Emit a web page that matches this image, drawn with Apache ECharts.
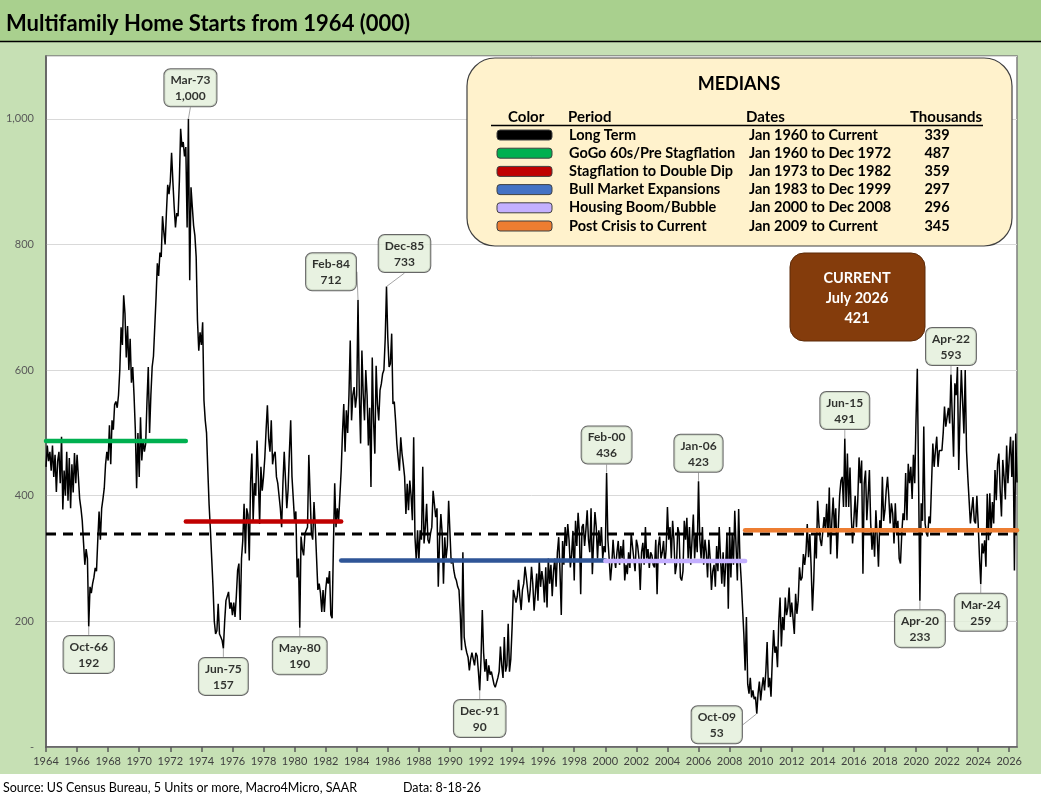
<!DOCTYPE html>
<html>
<head>
<meta charset="utf-8">
<title>Multifamily Home Starts from 1964</title>
<script src="https://cdn.jsdelivr.net/npm/echarts@6.0.0/dist/echarts.min.js"></script>
<style>
  html, body { margin: 0; padding: 0; background: #fff; }
  #main { width: 1041px; height: 802px; }
</style>
</head>
<body>
<div id="main"></div>
<script>
// monthly multifamily starts (000, SAAR), Jan 1964 .. Jul 2026
const starts1960s = [
  446, 480, 455, 470, 440, 480, 430, 465, 406, 455, 470, 420,
  494, 378, 440, 400, 470, 392, 460, 380, 450, 405, 468, 420,
  465, 430, 395, 380, 360, 325, 290, 315, 300, 192, 255, 245,
  260, 270, 285, 280, 330, 375, 330, 380, 395, 412, 450, 470,
  456, 512, 450, 520, 505, 545, 550, 540, 560, 600, 668, 640,
  719, 690, 620, 670, 600, 650, 580, 605, 560, 505, 412, 500
]
const starts1970s = [
  430, 525, 456, 490, 470, 483, 550, 605, 500, 560, 605, 622,
  622, 715, 770, 750, 787, 780, 845, 820, 800, 850, 895, 880,
  900, 946, 900, 860, 827, 850, 845, 900, 984, 955, 963, 940,
  955, 827, 1000, 743, 891, 860, 830, 814, 780, 679, 631, 660,
  640, 676, 552, 520, 500, 440, 385, 345, 300, 255, 200, 180,
  185, 228, 180, 175, 170, 157, 200, 233, 230, 247, 220, 230,
  210, 230, 207, 240, 281, 292, 202, 300, 329, 387, 308, 380,
  370, 297, 420, 467, 360, 420, 400, 488, 430, 355, 446, 408,
  430, 460, 505, 544, 490, 470, 520, 450, 465, 470, 430, 420,
  400, 380, 350, 420, 470, 470, 380, 410, 470, 520, 430, 395
]
const starts1980s = [
  360, 375, 270, 300, 190, 335, 315, 305, 340, 345, 350, 465,
  467, 340, 330, 390, 350, 300, 250, 260, 245, 215, 250, 215,
  250, 270, 260, 280, 210, 205, 320, 420, 350, 380, 360, 400,
  440, 500, 546, 470, 536, 500, 560, 647, 520, 560, 573, 540,
  560, 712, 560, 483, 631, 562, 520, 600, 560, 480, 540, 414,
  620, 519, 467, 607, 546, 520, 568, 578, 594, 600, 650, 733,
  652, 605, 610, 658, 546, 550, 520, 483, 460, 440, 493, 467,
  450, 430, 371, 419, 377, 424, 400, 361, 493, 334, 297, 345,
  297, 345, 330, 446, 324, 350, 387, 330, 324, 340, 350, 408,
  408, 366, 380, 255, 330, 371, 340, 260, 334, 300, 320, 392
]
const starts1990s = [
  390, 292, 300, 281, 270, 265, 255, 250, 210, 154, 310, 175,
  160, 150, 143, 122, 140, 150, 140, 130, 150, 145, 120, 90,
  140, 218, 150, 120, 140, 105, 130, 115, 120, 110, 100, 95,
  95, 110, 120, 160, 130, 110, 175, 120, 130, 196, 120, 140,
  190, 250, 249, 230, 240, 266, 240, 218, 250, 260, 287, 270,
  270, 230, 250, 287, 260, 217, 245, 276, 233, 297, 255, 280,
  265, 230, 286, 222, 300, 260, 290, 240, 280, 300, 255, 310,
  334, 280, 210, 328, 290, 350, 320, 355, 330, 286, 307, 344,
  265, 360, 320, 373, 340, 243, 350, 355, 320, 345, 377, 330,
  310, 380, 275, 330, 374, 350, 300, 345, 320, 350, 300, 320
]
const starts2000s = [
  310, 436, 330, 300, 265, 290, 330, 300, 285, 310, 328, 290,
  320, 300, 330, 265, 290, 275, 310, 285, 340, 320, 300, 280,
  330, 320, 300, 250, 310, 325, 290, 350, 300, 315, 285, 310,
  305, 290, 286, 330, 243, 320, 335, 300, 310, 328, 290, 315,
  382, 330, 350, 300, 360, 330, 275, 290, 350, 340, 270, 265,
  280, 360, 330, 365, 300, 350, 290, 330, 370, 300, 340, 310,
  423, 330, 300, 350, 290, 330, 310, 270, 330, 300, 250, 280,
  290, 255, 320, 280, 350, 300, 260, 310, 255, 290, 340, 220,
  350, 270, 340, 290, 376, 320, 265, 379, 300, 265, 222, 180,
  122, 207, 100, 85, 110, 79, 90, 76, 80, 53, 85, 104
]
const starts2010s = [
  74, 95, 111, 90, 120, 167, 95, 110, 80, 140, 186, 150,
  160, 127, 200, 238, 160, 207, 186, 238, 210, 222, 254, 207,
  230, 233, 180, 244, 212, 233, 286, 265, 270, 307, 290, 310,
  355, 302, 339, 286, 217, 265, 339, 300, 392, 355, 330, 320,
  320, 366, 345, 387, 334, 413, 307, 360, 397, 344, 380, 300,
  350, 400, 424, 430, 382, 491, 382, 467, 382, 445, 367, 324,
  324, 400, 350, 392, 461, 420, 456, 276, 420, 440, 361, 400,
  441, 356, 314, 345, 303, 377, 335, 287, 361, 345, 430, 360,
  377, 409, 430, 398, 356, 388, 372, 324, 388, 340, 360, 300,
  292, 340, 372, 361, 436, 361, 451, 420, 446, 395, 465, 420
]
const starts2020s = [
  520, 602, 420, 233, 388, 360, 510, 356, 340, 335, 367, 356,
  356, 483, 446, 472, 494, 446, 472, 475, 472, 500, 542, 510,
  510, 540, 515, 593, 525, 462, 579, 560, 605, 441, 530, 600,
  600, 499, 600, 472, 430, 393, 356, 377, 398, 360, 356, 400,
  356, 303, 259, 324, 308, 329, 287, 403, 329, 404, 340, 390,
  356, 441, 393, 451, 467, 409, 367, 457, 430, 394, 480, 420,
  460, 494, 430, 488, 281, 499, 421
]

const startYear = 1964
const monthNames = ['Jan', 'Feb', 'Mar', 'Apr', 'May', 'Jun', 'Jul', 'Aug', 'Sep', 'Oct', 'Nov', 'Dec']

// medians table
const medianNames = ['Long Term', 'GoGo 60s/Pre Stagflation', 'Stagflation to Double Dip', 'Bull Market Expansions', 'Housing Boom/Bubble', 'Post Crisis to Current']
const medianDates = ['Jan 1960 to Current', 'Jan 1960 to Dec 1972', 'Jan 1973 to Dec 1982', 'Jan 1983 to Dec 1999', 'Jan 2000 to Dec 2008', 'Jan 2009 to Current']
const medianValues = [339, 487, 359, 297, 296, 345]
const medianFrom = ['Jan-64', 'Jan-64', 'Jan-73', 'Jan-83', 'Jan-00', 'Jan-09']
const medianTo = ['Jul-26', 'Jan-73', 'Jan-83', 'Jan-00', 'Jan-09', 'Jul-26']

// called-out highs and lows
const calloutMonths = ['Oct-66', 'Mar-73', 'Jun-75', 'May-80', 'Feb-84', 'Dec-85', 'Dec-91', 'Feb-00', 'Jan-06', 'Oct-09', 'Jun-15', 'Apr-20', 'Apr-22', 'Mar-24']

const yTicks = [0, 200, 400, 600, 800, 1000]

const starts = [...starts1960s, ...starts1970s, ...starts1980s, ...starts1990s, ...starts2000s, ...starts2010s, ...starts2020s]
const months = starts.map((v, i) => monthNames[i % 12] + '-' + String((startYear + Math.floor(i / 12)) % 100).padStart(2, '0'))
const lastIdx = starts.length - 1

const main = document.getElementById('main')
const myChart = echarts.init(main)

const FONT = 'Lato'
const lineColors = ['#000000', '#00b050', '#c00000', '#2f5597', '#c4b0ff', '#ed7d31']
const swatchColors = ['#000000', '#00b050', '#c00000', '#4472c4', '#c4b0ff', '#ed7d31']

// label placement for each callout (style only)
const calloutPos = ['bottom', 'top', 'bottom', 'bottom', 'top', 'top', 'bottom', 'top', 'top', 'bottom', 'top', 'bottom', 'top', 'bottom']
const calloutShift = {1: [2, -3], 4: [-27, 0], 5: [18, -5], 9: [-40, -17]}

const medianSeries = medianValues.map((m, k) => ({
    type: 'line',
    name: medianNames[k],
    data: [[months.indexOf(medianFrom[k]), m], [months.indexOf(medianTo[k]), m]],
    symbol: 'none',
    silent: true,
    z: k === 0 ? 3 : 4,
    lineStyle: k === 0
        ? {color: lineColors[0], width: 3, type: [10, 7]}
        : {color: lineColors[k], width: 4.5, cap: 'round'}
}))

const calloutData = calloutMonths.map((d, k) => {
    const i = months.indexOf(d)
    return {
        value: [i, starts[i]],
        label: {position: calloutPos[k], distance: 9}
    }
})

// medians box + current box
const T = 14.5
const graphics = [
    {type: 'rect', shape: {x: 0, y: 0, width: 1041, height: 41}, style: {fill: '#a9d08e'}, z: 1},
    {type: 'line', shape: {x1: 0, y1: 41.5, x2: 1041, y2: 41.5}, style: {stroke: '#000', lineWidth: 1.5}, z: 1},
    {type: 'rect', shape: {x: 0, y: 774, width: 1041, height: 28}, style: {fill: '#ffffff'}, z: 1},
    {type: 'text', x: 6, y: 24, style: {text: 'Multifamily Home Starts from 1964 (000)', font: 'bold 22px ' + FONT, fill: '#000', textVerticalAlign: 'middle'}, z: 2},
    {type: 'text', x: 3, y: 788, style: {text: 'Source: US Census Bureau, 5 Units or more, Macro4Micro, SAAR', font: '12.5px ' + FONT, fill: '#000', textVerticalAlign: 'middle'}, z: 2},
    {type: 'text', x: 403, y: 788, style: {text: 'Data: 8-18-26', font: '12.5px ' + FONT, fill: '#000', textVerticalAlign: 'middle'}, z: 2},

    {type: 'rect', shape: {x: 467, y: 58, width: 545, height: 188, r: 28}, style: {fill: '#fff2cc', stroke: '#404040', lineWidth: 1.2}, z: 100},
    {type: 'text', x: 739, y: 84, style: {text: 'MEDIANS', font: 'bold 18px ' + FONT, fill: '#000', textAlign: 'center', textVerticalAlign: 'middle'}, z: 101},
    {type: 'text', x: 508, y: 117, style: {text: 'Color', font: 'bold 15px ' + FONT, fill: '#000', textVerticalAlign: 'middle'}, z: 101},
    {type: 'text', x: 568, y: 117, style: {text: 'Period', font: 'bold 15px ' + FONT, fill: '#000', textVerticalAlign: 'middle'}, z: 101},
    {type: 'text', x: 746, y: 117, style: {text: 'Dates', font: 'bold 15px ' + FONT, fill: '#000', textVerticalAlign: 'middle'}, z: 101},
    {type: 'text', x: 910, y: 117, style: {text: 'Thousands', font: 'bold 15px ' + FONT, fill: '#000', textVerticalAlign: 'middle'}, z: 101},
    {type: 'line', shape: {x1: 491, y1: 125.5, x2: 983, y2: 125.5}, style: {stroke: '#000', lineWidth: 1.5}, z: 101},

    {type: 'rect', shape: {x: 790, y: 253, width: 135, height: 88, r: 14}, style: {fill: '#843c0c', stroke: '#5c2a08', lineWidth: 1}, z: 100},
    {type: 'text', x: 857, y: 278, style: {text: 'CURRENT', font: 'bold 14.5px ' + FONT, fill: '#fff', textAlign: 'center', textVerticalAlign: 'middle'}, z: 101},
    {type: 'text', x: 857, y: 298, style: {text: 'July 2026', font: 'bold 14.5px ' + FONT, fill: '#fff', textAlign: 'center', textVerticalAlign: 'middle'}, z: 101},
    {type: 'text', x: 857, y: 318, style: {text: String(starts[lastIdx]), font: 'bold 14.5px ' + FONT, fill: '#fff', textAlign: 'center', textVerticalAlign: 'middle'}, z: 101}
]
medianNames.forEach((name, k) => {
    const y = 135 + k * 18.2
    graphics.push(
        {type: 'rect', shape: {x: 497, y: y - 5, width: 55, height: 10, r: 3}, style: {fill: swatchColors[k], stroke: '#404040', lineWidth: 1}, z: 101},
        {type: 'text', x: 569, y: y, style: {text: name, font: 'bold ' + T + 'px ' + FONT, fill: '#000', textVerticalAlign: 'middle'}, z: 101},
        {type: 'text', x: 749, y: y, style: {text: medianDates[k], font: 'bold ' + T + 'px ' + FONT, fill: '#000', textVerticalAlign: 'middle'}, z: 101},
        {type: 'text', x: 937, y: y, style: {text: String(medianValues[k]), font: 'bold ' + T + 'px ' + FONT, fill: '#000', textAlign: 'center', textVerticalAlign: 'middle'}, z: 101}
    )
})

myChart.setOption({
    animation: false,
    backgroundColor: '#c6e0b4',
    textStyle: {fontFamily: FONT},
    grid: {
        left: 46, top: 56, width: 971, height: 691,
        show: true, backgroundColor: '#ffffff', borderColor: '#7f7f7f', borderWidth: 1.5
    },
    xAxis: {
        type: 'category',
        data: months,
        boundaryGap: false,
        axisLine: {lineStyle: {color: '#595959', width: 1.5}},
        axisTick: {interval: 23, length: 5, lineStyle: {color: '#595959', width: 1.5}},
        axisLabel: {
            interval: 23, color: '#404040', fontSize: 11, margin: 9,
            formatter: (v, i) => String(startYear + Math.floor(i / 12))
        },
        splitLine: {show: false}
    },
    yAxis: {
        type: 'value',
        min: 0, max: 1100, interval: 200,
        axisLine: {show: true, lineStyle: {color: '#595959', width: 1.5}},
        axisTick: {show: false},
        axisLabel: {
            color: '#595959', fontSize: 11, margin: 12,
            formatter: v => yTicks.indexOf(v) < 0 ? '' : (v === 0 ? '-' : v.toLocaleString('en-US'))
        },
        splitLine: {lineStyle: {color: '#d9d9d9', width: 1}}
    },
    series: [
        {
            type: 'line',
            name: 'Multifamily Starts',
            data: starts,
            symbol: 'none',
            z: 2,
            lineStyle: {color: '#000', width: 1.5}
        },
        ...medianSeries,
        {
            type: 'scatter',
            data: calloutData,
            symbolSize: 1,
            itemStyle: {color: 'rgba(0,0,0,0)'},
            z: 6,
            silent: true,
            labelLayout: p => {
                const s = calloutShift[p.dataIndex]
                return s ? {dx: s[0], dy: s[1]} : {}
            },
            labelLine: {show: true, lineStyle: {color: '#a6a6a6', width: 1}},
            label: {
                show: true,
                formatter: p => months[p.value[0]] + '\n' + p.value[1].toLocaleString('en-US'),
                backgroundColor: '#e2efda',
                borderColor: '#404040',
                borderWidth: 1,
                borderRadius: 6,
                padding: [3, 6, 2, 6],
                color: '#000',
                fontSize: 12,
                fontWeight: 'bold',
                lineHeight: 16,
                align: 'center'
            }
        }
    ],
    graphic: graphics
})
</script>
</body>
</html>
